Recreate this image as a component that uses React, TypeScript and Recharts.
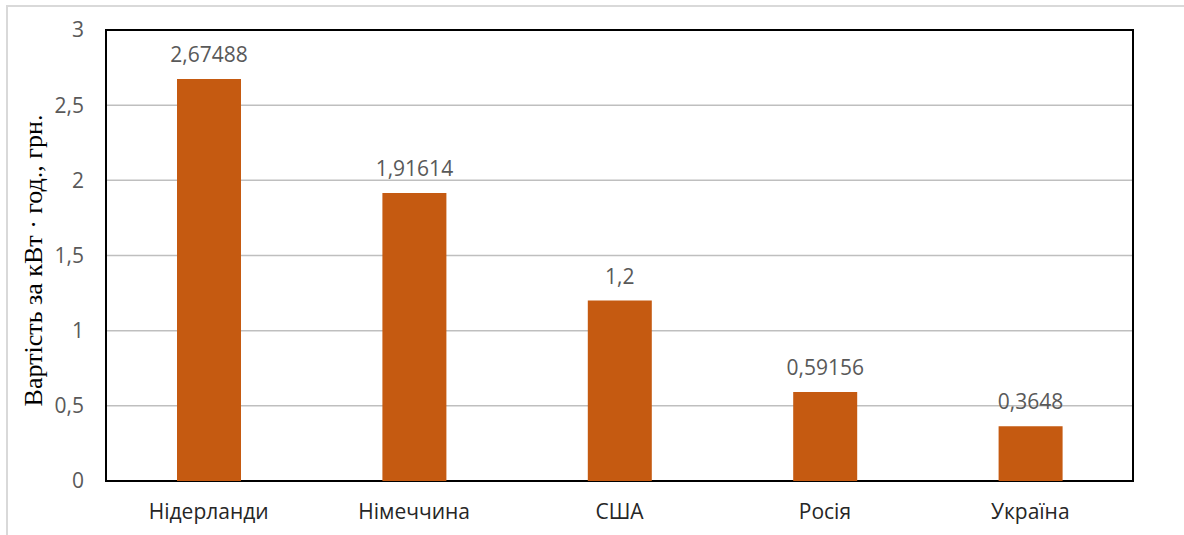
import {
  BarChart,
  Bar,
  XAxis,
  YAxis,
  CartesianGrid,
  LabelList,
  usePlotArea,
} from "recharts";

const countries = ["Нідерланди", "Німеччина", "США", "Росія", "Україна"];
const prices = [2.67488, 1.91614, 1.2, 0.59156, 0.3648];
const yTicks = [0, 0.5, 1, 1.5, 2, 2.5, 3];

const data = countries.map((country, i) => ({ country, price: prices[i] }));

const font = "'Open Sans', sans-serif";
const grey = "#595959";

const comma = (v: number | string) => String(v).replace(".", ",");

function YTitle(props: any) {
  const vb = props.viewBox ?? {};
  const cy = vb.y + vb.height / 2 + 5;
  return (
    <text
      x={33}
      y={cy}
      transform={`rotate(-90, 33, ${cy})`}
      textAnchor="middle"
      dominantBaseline="central"
      fontFamily="'Liberation Serif', 'Times New Roman', serif"
      fontSize={26}
      fill="#000"
    >
      Вартість за кВт · год., грн.
    </text>
  );
}

// black frame round the plot area
function PlotFrame() {
  const area = usePlotArea();
  if (!area) return null;
  return (
    <rect
      x={area.x}
      y={area.y}
      width={area.width}
      height={area.height}
      fill="none"
      stroke="#000"
      strokeWidth={2}
    />
  );
}

export default function App() {
  return (
    <div
      style={{
        position: "absolute",
        left: 0,
        top: 0,
        width: 1184,
        height: 535,
        background: "#fff",
        overflow: "hidden",
      }}
    >
      <div
        style={{
          position: "absolute",
          left: 6,
          top: 5,
          width: 1200,
          height: 560,
          border: "2px solid #d9d9d9",
        }}
      />
      <div style={{ position: "absolute", left: 0, top: 0 }}>
        <BarChart
          width={1184}
          height={535}
          data={data}
          margin={{ top: 30, right: 51, bottom: 0, left: 6 }}
        >
          <CartesianGrid
            vertical={false}
            stroke="#bfbfbf"
            strokeWidth={1.5}
          />
          <XAxis
            dataKey="country"
            height={54}
            tickLine={false}
            axisLine={false}
            tickSize={0}
            tickMargin={23}
            tick={{ fontSize: 21, fill: "#262626", fontFamily: font }}
            interval={0}
          />
          <YAxis
            width={100}
            domain={[0, 3]}
            ticks={yTicks}
            tickLine={false}
            axisLine={false}
            tickSize={0}
            tickMargin={22}
            tickFormatter={comma}
            tick={{ fontSize: 21, fill: grey, fontFamily: font }}
            label={<YTitle />}
          />
          <Bar
            dataKey="price"
            fill="#c55a11"
            barSize={64}
            isAnimationActive={false}
          >
            <LabelList
              dataKey="price"
              position="top"
              offset={17}
              formatter={comma}
              style={{ fontSize: 21, fill: grey, fontFamily: font }}
            />
          </Bar>
          <PlotFrame />
        </BarChart>
      </div>
    </div>
  );
}
